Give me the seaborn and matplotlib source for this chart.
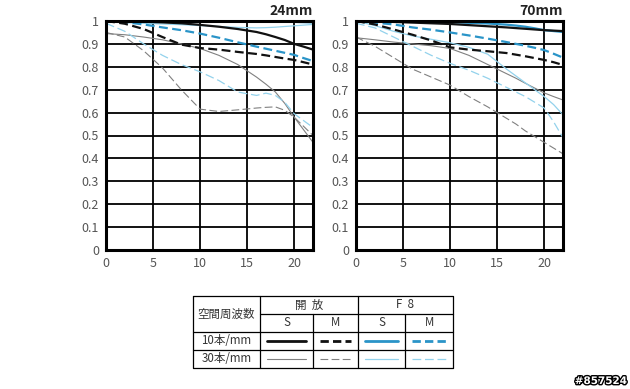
import matplotlib
matplotlib.use("Agg")
import matplotlib.pyplot as plt
import matplotlib.patheffects as pe
import numpy as np
import pandas as pd
import seaborn as sns

sns.set_style("white")
plt.rcParams['font.family'] = ['Noto Sans CJK JP', 'DejaVu Sans']

# image height positions (mm)
positions = [0, 2, 4, 6, 8, 10, 12, 14, 16, 17, 18, 19, 20, 21, 22]

# 24mm
w_open_s10 = [1.0, 0.999, 0.997, 0.994, 0.99, 0.983, 0.975, 0.965, 0.952, 0.942, 0.93, 0.917, 0.90, 0.888, 0.875]
w_open_m10 = [1.0, 0.988, 0.965, 0.93, 0.897, 0.882, 0.875, 0.865, 0.856, 0.85, 0.843, 0.836, 0.83, 0.82, 0.81]
w_f8_s10 = [1.0, 1.0, 1.0, 1.0, 1.0, 1.0, 1.0, 1.0, 0.999, 0.999, 0.998, 0.997, 0.996, 0.995, 0.994]
w_f8_m10 = [1.0, 0.995, 0.985, 0.972, 0.96, 0.945, 0.927, 0.907, 0.888, 0.879, 0.87, 0.861, 0.852, 0.838, 0.825]
w_open_s30 = [0.945, 0.94, 0.93, 0.918, 0.9, 0.88, 0.85, 0.81, 0.755, 0.724, 0.69, 0.64, 0.58, 0.525, 0.47]
w_open_m30 = [0.95, 0.93, 0.87, 0.795, 0.70, 0.615, 0.605, 0.612, 0.62, 0.623, 0.625, 0.61, 0.58, 0.54, 0.50]
w_f8_s30 = [0.995, 0.993, 0.99, 0.987, 0.984, 0.98, 0.976, 0.972, 0.97, 0.971, 0.973, 0.976, 0.979, 0.982, 0.985]
w_f8_m30 = [0.99, 0.955, 0.90, 0.85, 0.81, 0.778, 0.74, 0.69, 0.675, 0.685, 0.675, 0.645, 0.595, 0.565, 0.535]

# 70mm
t_open_s10 = [1.0, 0.998, 0.996, 0.993, 0.99, 0.987, 0.982, 0.977, 0.972, 0.969, 0.966, 0.963, 0.96, 0.958, 0.956]
t_open_m10 = [1.0, 0.985, 0.963, 0.94, 0.915, 0.885, 0.875, 0.868, 0.86, 0.853, 0.846, 0.838, 0.83, 0.82, 0.808]
t_f8_s10 = [1.0, 1.0, 0.999, 0.998, 0.997, 0.995, 0.992, 0.989, 0.984, 0.98, 0.975, 0.968, 0.96, 0.956, 0.952]
t_f8_m10 = [1.0, 0.993, 0.985, 0.972, 0.962, 0.95, 0.937, 0.923, 0.908, 0.9, 0.892, 0.883, 0.873, 0.857, 0.84]
t_open_s30 = [0.927, 0.918, 0.908, 0.9, 0.892, 0.88, 0.85, 0.81, 0.77, 0.75, 0.728, 0.707, 0.686, 0.67, 0.655]
t_open_m30 = [0.93, 0.89, 0.84, 0.79, 0.755, 0.72, 0.67, 0.625, 0.575, 0.55, 0.52, 0.495, 0.47, 0.445, 0.42]
t_f8_s30 = [1.0, 0.98, 0.955, 0.935, 0.92, 0.905, 0.885, 0.855, 0.79, 0.76, 0.73, 0.70, 0.67, 0.635, 0.59]
t_f8_m30 = [0.99, 0.97, 0.93, 0.89, 0.85, 0.815, 0.785, 0.75, 0.71, 0.69, 0.67, 0.645, 0.62, 0.56, 0.49]

panel_titles = ["24mm", "70mm"]
x_ticks = [0, 5, 10, 15, 20]
y_ticks = [0, 0.1, 0.2, 0.3, 0.4, 0.5, 0.6, 0.7, 0.8, 0.9, 1.0]
y_tick_labels = ["0", "0.1", "0.2", "0.3", "0.4", "0.5", "0.6", "0.7", "0.8", "0.9", "1"]

BLACK = "#111111"
GRAY = "#808080"
BLUE = "#2a94c8"
LBLUE = "#93d2ec"

styles = {
    "open_s30": dict(color=GRAY, lw=0.8, dashes=None),
    "open_m30": dict(color=GRAY, lw=0.8, dashes=(7, 3)),
    "f8_s30": dict(color=LBLUE, lw=0.9, dashes=None),
    "f8_m30": dict(color=LBLUE, lw=0.9, dashes=(7, 3)),
    "f8_m10": dict(color=BLUE, lw=1.6, dashes=(4, 2)),
    "open_m10": dict(color=BLACK, lw=1.6, dashes=(4, 2)),
    "f8_s10": dict(color=BLUE, lw=1.6, dashes=None),
    "open_s10": dict(color=BLACK, lw=1.6, dashes=None),
}

panels = [
    {"open_s10": w_open_s10, "open_m10": w_open_m10, "f8_s10": w_f8_s10, "f8_m10": w_f8_m10,
     "open_s30": w_open_s30, "open_m30": w_open_m30, "f8_s30": w_f8_s30, "f8_m30": w_f8_m30},
    {"open_s10": t_open_s10, "open_m10": t_open_m10, "f8_s10": t_f8_s10, "f8_m10": t_f8_m10,
     "open_s30": t_open_s30, "open_m30": t_open_m30, "f8_s30": t_f8_s30, "f8_m30": t_f8_m30},
]

W, H = 630, 389
fig = plt.figure(figsize=(W / 100, H / 100), dpi=100)

ax_lefts = [106, 356]
ax_w = 207
ax_top, ax_bottom = 21, 250

for i, (left, data) in enumerate(zip(ax_lefts, panels)):
    ax = fig.add_axes([left / W, 1 - ax_bottom / H, ax_w / W, (ax_bottom - ax_top) / H])
    for yt in y_ticks[1:-1]:
        ax.axhline(yt, color="black", lw=1.3, zorder=1)
    for xt in x_ticks[1:]:
        ax.axvline(xt, color="black", lw=1.3, zorder=1)
    for name, st in styles.items():
        df = pd.DataFrame({"pos": positions, "mtf": data[name]})
        sns.lineplot(data=df, x="pos", y="mtf", ax=ax, legend=False,
                     color=st["color"], linewidth=st["lw"])
        ln = ax.lines[-1]
        if st["dashes"] is not None:
            ln.set_dashes(st["dashes"])
        ln.set_zorder(3)
    ax.set_xlim(0, 22)
    ax.set_ylim(0, 1)
    ax.set_xticks(x_ticks)
    ax.set_yticks(y_ticks)
    ax.set_yticklabels(y_tick_labels)
    ax.tick_params(length=0, labelsize=9, colors="#555555", pad=5)
    ax.set_xlabel("")
    ax.set_ylabel("")
    for sp in ax.spines.values():
        sp.set_visible(True)
        sp.set_color("black")
        sp.set_linewidth(2.2)
        sp.set_zorder(5)
    ax.text(1.0, 1.015, panel_titles[i], transform=ax.transAxes, ha="right", va="bottom",
            fontsize=10, fontweight="bold", color="#222222")

# legend table in pixel coordinates
tx = fig.add_axes([0, 0, 1, 1])
tx.set_xlim(0, W)
tx.set_ylim(H, 0)
tx.axis("off")
L, C1, C2, C3, C4, R = 193, 260, 313, 358, 405, 453
T, RH1, RH2, RR, B = 296, 314, 332, 350, 368
lk = dict(color="black", lw=0.9)
tx.plot([L, R, R, L, L], [T, T, B, B, T], **lk)
tx.plot([C1, C1], [T, B], **lk)
tx.plot([C3, C3], [T, B], **lk)
tx.plot([C2, C2], [RH1, B], **lk)
tx.plot([C4, C4], [RH1, B], **lk)
tx.plot([C1, R], [RH1, RH1], **lk)
tx.plot([L, R], [RH2, RH2], **lk)
tx.plot([L, R], [RR, RR], **lk)
fs = 8.3
tc = "#333333"
tx.text((L + C1) / 2, (T + RH2) / 2, "空間周波数", ha="center", va="center", fontsize=fs, color=tc)
tx.text((C1 + C3) / 2, (T + RH1) / 2, "開  放", ha="center", va="center", fontsize=fs, color=tc)
tx.text((C3 + R) / 2, (T + RH1) / 2, "F  8", ha="center", va="center", fontsize=fs, color=tc)
for a, b, s in [(C1, C2, "S"), (C2, C3, "M"), (C3, C4, "S"), (C4, R, "M")]:
    tx.text((a + b) / 2, (RH1 + RH2) / 2, s, ha="center", va="center", fontsize=fs, color=tc)
tx.text((L + C1) / 2, (RH2 + RR) / 2, "10本/mm", ha="center", va="center", fontsize=fs, color=tc)
tx.text((L + C1) / 2, (RR + B) / 2, "30本/mm", ha="center", va="center", fontsize=fs, color=tc)
cells = [(C1, C2, "open_s10", "open_s30"), (C2, C3, "open_m10", "open_m30"),
         (C3, C4, "f8_s10", "f8_s30"), (C4, R, "f8_m10", "f8_m30")]
for a, b, n10, n30 in cells:
    for name, yy in [(n10, (RH2 + RR) / 2), (n30, (RR + B) / 2)]:
        st = styles[name]
        ln, = tx.plot([a + 7, b - 7], [yy, yy], color=st["color"],
                      lw=st["lw"] + (0.4 if st["lw"] > 1 else 0))
        if st["dashes"] is not None:
            ln.set_dashes(st["dashes"] if st["lw"] < 1 else (3, 1.5))

tx.text(601, 381, "#857524", ha="center", va="center", fontsize=7.5, fontweight="bold",
        color="white", family="DejaVu Sans",
        path_effects=[pe.withStroke(linewidth=2, foreground="black")])

fig.savefig("out.png", dpi=100)
